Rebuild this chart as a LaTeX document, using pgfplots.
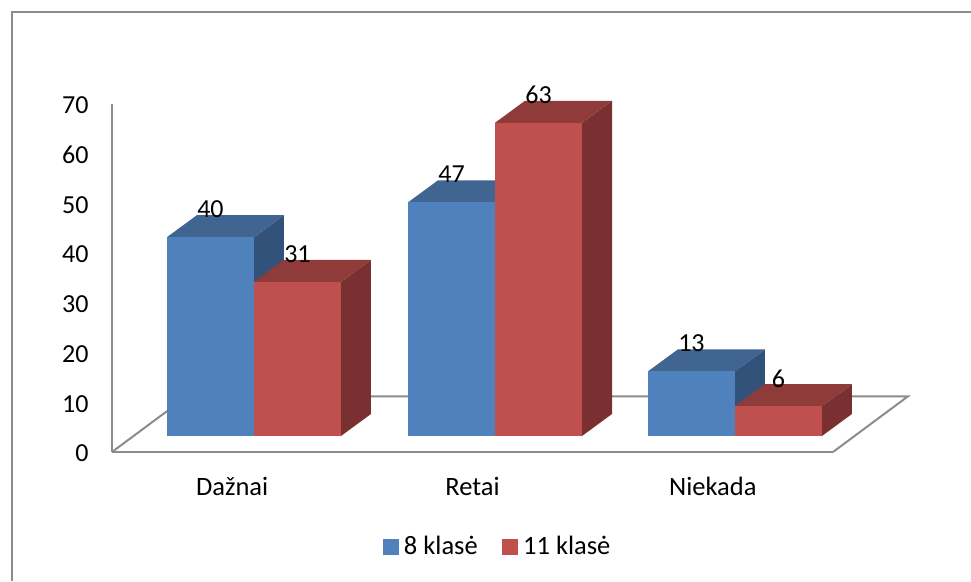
\documentclass[border=0pt]{standalone}
\usepackage{pgfplots}
\pgfplotsset{compat=1.18}
\usepackage{fontspec}
\setmainfont{Carlito}

\definecolor{blueFront}{HTML}{4F81BD}
\definecolor{blueTop}{HTML}{3F6590}
\definecolor{blueSide}{HTML}{32527A}
\definecolor{redFront}{HTML}{C0504D}
\definecolor{redTop}{HTML}{8F3B39}
\definecolor{redSide}{HTML}{7A3030}
\definecolor{frameGray}{HTML}{8C8C8C}

% One cuboid: left edge, value, front, top and side colours.
\newcommand{\cuboid}[5]{%
  \pgfmathsetmacro{\xa}{#1}%
  \pgfmathsetmacro{\xb}{#1+0.362}%
  \pgfmathsetmacro{\xc}{#1+0.4868}%
  \pgfmathsetmacro{\xd}{#1+0.1248}%
  \pgfmathsetmacro{\xm}{#1+0.181}%
  \pgfmathsetmacro{\ya}{3.22}%
  \pgfmathsetmacro{\yb}{3.22+#2}%
  \pgfmathsetmacro{\yc}{3.22+#2+4.43}%
  \pgfmathsetmacro{\yd}{3.22+4.43}%
  \pgfmathsetmacro{\yl}{3.22+#2+5.6}%
  \addplot[forget plot,draw=none,fill=#5] coordinates {(\xb,\ya) (\xc,\yd) (\xc,\yc) (\xb,\yb)} --cycle;
  \addplot[forget plot,draw=none,fill=#4] coordinates {(\xa,\yb) (\xb,\yb) (\xc,\yc) (\xd,\yc)} --cycle;
  \addplot[forget plot,draw=none,fill=#3] coordinates {(\xa,\ya) (\xb,\ya) (\xb,\yb) (\xa,\yb)} --cycle;
  \addplot[forget plot,draw=none,mark=none,
    nodes near coords={#2},
    every node near coord/.append style={anchor=center,inner sep=0pt,
      font=\fontsize{26}{30}\selectfont,text=black}]
    coordinates {(\xm,\yl)};
}

\begin{document}
\begin{tikzpicture}
  \path[use as bounding box] (-112pt,-129pt) rectangle (859pt,452pt);
  \draw[frameGray,line width=2pt] (859pt,440pt) -- (-100pt,440pt) -- (-100pt,-129pt);
  \begin{axis}[
    at={(0pt,0pt)},anchor=south west,
    scale only axis,width=721pt,height=348pt,
    xmin=0,xmax=3,ymin=0,ymax=70,
    clip=false,
    axis lines=left,
    axis line style={-,frameGray,line width=2pt},
    xtick={0.5,1.5,2.5},
    xticklabels={Dažnai,Retai,Niekada},
    ytick={0,10,...,70},
    major tick length=0pt,
    tick style={draw=none},
    /pgf/number format/assume math mode=true,
    xticklabel style={yshift=-21.5pt,font=\fontsize{26.5}{30}\selectfont,text=black},
    yticklabel style={xshift=-20pt,yshift=-1.5pt,font=\fontsize{26}{30}\selectfont,text=black},
    legend columns=2,
    legend style={draw=none,fill=none,at={(axis cs:1.6040,-19.0)},anchor=center,
      font=\fontsize{26.5}{30}\selectfont,
      /tikz/every even column/.append style={column sep=22pt},
      inner sep=0pt,outer sep=0pt},
    legend cell align=left,
    legend image code/.code={\fill[#1] (0pt,-7.5pt) rectangle (15pt,7.5pt);
      \path (19pt,0pt);},
  ]
    % Floor of the chart
    \addplot[forget plot,frameGray,line width=2pt] coordinates {(3,0) (3.312,11.2) (0.312,11.2)};
    \addplot[forget plot,frameGray,line width=2pt] coordinates {(0,0) (0.312,11.2)};

    % Dažnai
    \cuboid{0.2288}{40}{blueFront}{blueTop}{blueSide}
    \cuboid{0.5908}{31}{redFront}{redTop}{redSide}
    % Retai
    \cuboid{1.2317}{47}{blueFront}{blueTop}{blueSide}
    \cuboid{1.5937}{63}{redFront}{redTop}{redSide}
    % Niekada
    \cuboid{2.2300}{13}{blueFront}{blueTop}{blueSide}
    \cuboid{2.5920}{6}{redFront}{redTop}{redSide}

    \addlegendimage{blueFront}
    \addlegendentry{8 klasė}
    \addlegendimage{redFront}
    \addlegendentry{11 klasė}
  \end{axis}
\end{tikzpicture}
\end{document}
